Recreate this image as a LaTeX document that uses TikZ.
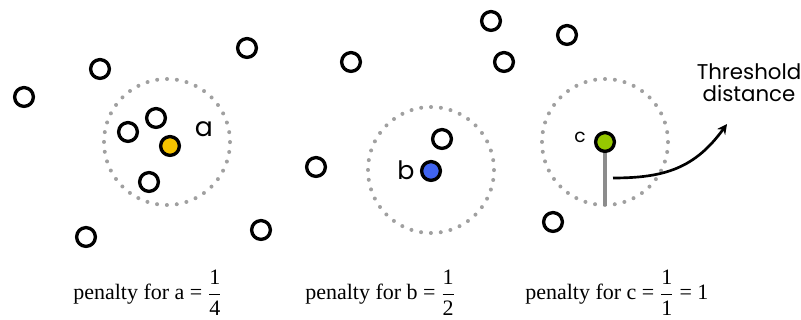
\documentclass[tikz,border=0pt]{standalone}
\usepackage{amsmath}
\usepackage{fontspec}
\setmainfont{Liberation Serif}
\newfontfamily\gothic{Poppins}
\usetikzlibrary{arrows.meta}
\definecolor{dotgray}{RGB}{160,160,160}
\definecolor{lngray}{RGB}{140,140,140}
\definecolor{cyellow}{RGB}{245,195,0}
\definecolor{cblue}{RGB}{64,100,240}
\definecolor{cgreen}{RGB}{150,200,0}
\tikzset{
  pt/.style={circle, draw=black, line width=2.5pt, fill=white, minimum size=14.1pt, inner sep=0pt},
  thr/.style={circle, draw=dotgray, line width=3pt, line cap=round, dash pattern=on 0pt off 7.42pt, minimum size=94.5pt, inner sep=0pt},
  lbl/.style={font=\gothic, inner sep=0pt},
  pen/.style={font=\fontsize{16.5}{20}\selectfont, anchor=base west, inner sep=0pt},
}
\begin{document}
\begin{tikzpicture}[x=0.75pt,y=-0.75pt]
\useasboundingbox (0,0) rectangle (801,320);
% threshold circles
\node[thr] (ta) at (167,142) {};
\node[thr] (tb) at (431,170) {};
\node[thr] (tc) at (605,142) {};
% group a
\node[pt] (p1) at (24,97) {};
\node[pt] (p2) at (100,69) {};
\node[pt] (p3) at (247,48) {};
\node[pt] (p4) at (156,118) {};
\node[pt] (p5) at (128,132) {};
\node[pt] (p6) at (149,182) {};
\node[pt] (p7) at (86,237) {};
\node[pt] (p8) at (261,230) {};
\node[pt, fill=cyellow] (a) at (170,146) {};
\node[lbl, font=\gothic\fontsize{20}{24}\selectfont] (la) at (204,129) {a};
% group b
\node[pt] (q1) at (491,21) {};
\node[pt] (q2) at (351,62) {};
\node[pt] (q3) at (504,62) {};
\node[pt] (q4) at (316,167) {};
\node[pt] (q5) at (442,139) {};
\node[pt, fill=cblue] (b) at (431,171) {};
\node[lbl, font=\gothic\fontsize{19}{23}\selectfont] (lb) at (406,170) {b};
% group c
\node[pt] (r1) at (567,35) {};
\node[pt] (r2) at (553,222) {};
\node[lbl, font=\gothic\fontsize{14}{17}\selectfont] (lc) at (580,137) {c};
\coordinate (cb) at (605,206);
\draw[lngray, line width=2.7pt] (605,142) -- (cb);
\node[pt, fill=cgreen] (c) at (605,142) {};
% threshold label
\node[lbl, font=\gothic\fontsize{16}{19}\selectfont, anchor=base] (tl) at (749,80) {Threshold};
\node[lbl, font=\gothic\fontsize{16}{19}\selectfont, anchor=base] (tl2) at (749,102) {distance};
\coordinate (as) at (613,178);
\coordinate (ae) at (727,124);
\draw[line width=2pt, -{Stealth[length=7.5pt,width=7.5pt]}] (as) .. controls (665,178) and (695,168) .. (ae);
% penalties
\node[pen] (f1) at (73,300) {penalty for a = $\dfrac{\textrm{1}}{\textrm{4}}$};
\node[pen] (f2) at (305,300) {penalty for b = $\dfrac{\textrm{1}}{\textrm{2}}$};
\node[pen] (f3) at (525,300) {penalty for c = $\dfrac{\textrm{1}}{\textrm{1}}$ = 1};
\end{tikzpicture}
\end{document}
